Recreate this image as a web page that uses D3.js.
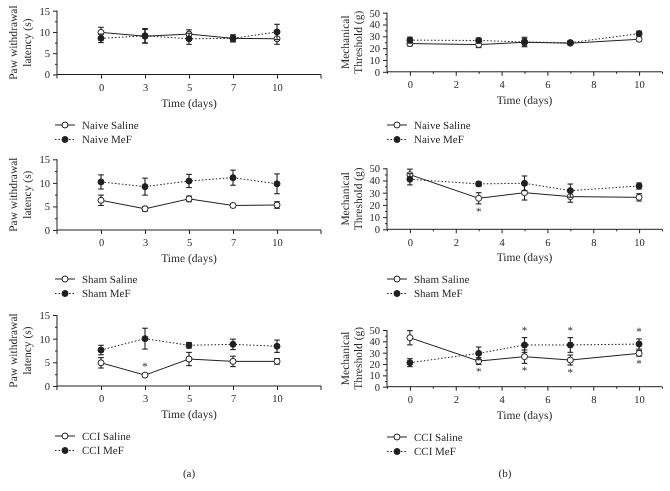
<!DOCTYPE html>
<html><head><meta charset="utf-8">
<script src="https://cdn.jsdelivr.net/npm/d3@7"></script>
<style>body{margin:0;background:#fff}svg{display:block;will-change:transform}text{font-family:"Liberation Serif","DejaVu Serif",serif;fill:#2b2728;text-rendering:geometricPrecision}</style>
</head><body><svg id="c" width="670" height="491" font-family="Liberation Serif, serif"></svg>
<script>
// ---- data ----
const daysCat = ["0","3","5","7","10"];
const daysNum = [0,3,5,7,10];
const pwlTicks = [0,5,10,15];
const mtTicks = [0,10,20,30,40,50];
const mtXTicks = [0,2,4,6,8,10];

const naiveSalinePWL = [9.9, 9.0, 9.5, 8.5, 8.4];
const naiveSalinePWLErr = [1.2, 1.6, 1.0, 0.8, 1.3];
const naiveMeFPWL = [8.5, 9.1, 8.4, 8.5, 10.0];
const naiveMeFPWLErr = [1.0, 1.7, 1.3, 0.8, 1.8];
const shamSalinePWL = [6.3, 4.5, 6.6, 5.2, 5.3];
const shamSalinePWLErr = [1.1, 0.5, 0.6, 0.3, 0.7];
const shamMeFPWL = [10.2, 9.2, 10.4, 11.1, 9.8];
const shamMeFPWLErr = [1.5, 1.8, 1.4, 1.6, 2.1];
const cciSalinePWL = [4.9, 2.3, 5.7, 5.2, 5.2];
const cciSalinePWLErr = [1.1, 0.3, 1.4, 1.1, 0.6];
const cciMeFPWL = [7.6, 10.0, 8.6, 8.8, 8.4];
const cciMeFPWLErr = [1.0, 2.2, 0.6, 1.1, 1.3];

const naiveSalineMT = [23.9, 23.0, 25.0, 24.2, 27.5];
const naiveSalineMTErr = [2.0, 2.5, 3.0, 1.5, 1.5];
const naiveMeFMT = [26.8, 26.5, 25.2, 24.7, 32.3];
const naiveMeFMTErr = [2.5, 2.0, 4.0, 1.5, 2.0];
const shamSalineMT = [44.8, 25.4, 30.0, 26.8, 26.2];
const shamSalineMTErr = [4.5, 4.6, 6.0, 4.6, 3.0];
const shamMeFMT = [41.0, 37.2, 37.7, 31.7, 35.5];
const shamMeFMTErr = [4.6, 2.0, 6.0, 5.4, 2.5];
const cciSalineMT = [43.2, 22.6, 26.5, 23.5, 29.4];
const cciSalineMTErr = [6.3, 3.0, 5.9, 4.4, 2.5];
const cciMeFMT = [21.2, 29.4, 36.8, 36.8, 37.6];
const cciMeFMTErr = [3.5, 5.6, 6.5, 6.5, 4.5];

// significance marks: [index of day, series (0 saline,1 MeF), side]
const shamMTStars = [[1,0,"below"]];
const cciPWLStars = [[1,0,"above"]];
const cciMTStars = [[1,0,"below"],[2,0,"below"],[3,0,"below"],[4,0,"below"],[2,1,"above"],[3,1,"above"],[4,1,"above"]];

const svg = d3.select("#c");
const INK = "#231f20";
const FONT = '"Liberation Serif","DejaVu Serif",serif';

function panel(o){
  const g = svg.append("g");
  const x = o.cat
    ? d3.scalePoint().domain(daysCat).range([o.x0, o.x1]).padding(1)
    : d3.scaleLinear().domain([-1, 11]).range([o.x0, o.x1]);
  const xv = i => o.cat ? x(daysCat[i]) : x(daysNum[i]);
  const y = d3.scaleLinear().domain([0, o.ymax]).range([o.yb, o.yt]);

  // y axis
  g.append("g").attr("transform", `translate(${o.x0},0)`)
    .call(d3.axisLeft(y).tickValues(o.yTicks).tickSize(4).tickPadding(3).tickFormat(d3.format("d")));
  const yMinor = d3.range(o.yMinorStep, o.ymax, o.yMinorStep*2);
  g.append("g").attr("transform", `translate(${o.x0},0)`)
    .call(d3.axisLeft(y).tickValues(yMinor).tickSize(2).tickFormat(""));

  // x axis
  if (o.cat) {
    g.append("g").attr("transform", `translate(0,${o.yb})`)
      .call(d3.axisBottom(x).tickSize(4).tickPadding(5));
    g.append("g").attr("transform", `translate(0,${o.yb})`).selectAll("line.end")
      .data([o.x0, o.x1]).join("line").attr("x1", d=>d).attr("x2", d=>d).attr("y1",0).attr("y2",4).attr("stroke",INK);
  } else {
    g.append("g").attr("transform", `translate(0,${o.yb})`)
      .call(d3.axisBottom(x).tickValues(mtXTicks).tickSize(4).tickPadding(5));
    g.append("g").attr("transform", `translate(0,${o.yb})`)
      .call(d3.axisBottom(x).tickValues([-1,1,3,5,7,9,11]).tickSize(2).tickFormat(""));
  }
  g.selectAll(".domain").remove();
  g.selectAll("g").attr("font-family", FONT);
  g.append("line").attr("x1",o.x0).attr("x2",o.x0).attr("y1",o.yb).attr("y2",o.yt).attr("stroke",INK);
  g.append("line").attr("x1",o.x0).attr("x2",o.x1).attr("y1",o.yb).attr("y2",o.yb).attr("stroke",INK);
  g.selectAll(".tick line").attr("stroke", INK);
  g.selectAll(".tick text").attr("font-size", 10.5).attr("font-family", FONT);

  // axis titles
  g.append("text").attr("x", (o.x0 + o.x1)/2).attr("y", o.yb + 32)
    .attr("text-anchor","middle").attr("font-size", 11.5).text("Time (days)");
  const ycen = (o.yb + o.yt)/2;
  o.ylab.forEach((t,i)=>{
    g.append("text").attr("transform", `translate(${o.ylx[i]},${ycen}) rotate(-90)`)
      .attr("text-anchor","middle").attr("dy","0.35em").attr("font-size", 11.5).text(t);
  });

  // series
  const series = [
    {v:o.s, e:o.se, filled:false, dash:null},
    {v:o.m, e:o.me, filled:true, dash:"1.5,2"}
  ];
  series.forEach(s=>{
    const pts = s.v.map((v,i)=>[xv(i), y(v)]);
    g.append("path").attr("d", d3.line()(pts)).attr("fill","none").attr("stroke",INK)
      .attr("stroke-width", 1).attr("stroke-dasharray", s.dash);
  });
  series.forEach(s=>{
    const eg = g.append("g");
    s.v.forEach((v,i)=>{
      const cx = xv(i), hi = y(v + s.e[i]), lo = y(v - s.e[i]);
      eg.append("line").attr("x1",cx).attr("x2",cx).attr("y1",hi).attr("y2",lo).attr("stroke",INK).attr("stroke-width",1.1);
      [hi,lo].forEach(yy=> eg.append("line").attr("x1",cx-2.8).attr("x2",cx+2.8).attr("y1",yy).attr("y2",yy).attr("stroke",INK).attr("stroke-width",1.1));
    });
    s.v.forEach((v,i)=>{
      eg.append("circle").attr("cx", xv(i)).attr("cy", y(v)).attr("r", 3)
        .attr("fill", s.filled ? INK : "#fff").attr("stroke", INK).attr("stroke-width", 1);
    });
  });

  // stars
  (o.stars||[]).forEach(([i, si, side])=>{
    const s = series[si];
    const v = side === "above" ? s.v[i] + s.e[i] : s.v[i] - s.e[i];
    const yy = y(v) + (side === "above" ? -4 : 11);
    g.append("text").attr("x", xv(i)).attr("y", yy).attr("text-anchor","middle")
      .attr("font-size", 11).text("*");
  });

  // legend
  o.leg.forEach((t,i)=>{
    const ly = o.legY + i*14.5;
    g.append("line").attr("x1", o.legX).attr("x2", o.legX+20).attr("y1", ly).attr("y2", ly)
      .attr("stroke", INK).attr("stroke-dasharray", i ? "1.5,2" : null);
    g.append("circle").attr("cx", o.legX+10).attr("cy", ly).attr("r", 3)
      .attr("fill", i ? INK : "#fff").attr("stroke", INK);
    g.append("text").attr("x", o.legX+27).attr("y", ly).attr("dy","0.35em").attr("font-size", 11).text(t);
  });
}

const pwlLab = ["Paw withdrawal", "latency (s)"];
const mtLab = ["Mechanical", "Threshold (g)"];
const A = {cat:true, x0:57, x1:321, ymax:15, yTicks:pwlTicks, yMinorStep:2.5, ylab:pwlLab, ylx:[13,27], legX:55};
const B = {cat:false, x0:387, x1:662, ymax:50, yTicks:mtTicks, yMinorStep:5, ylab:mtLab, ylx:[345,358], legX:387};

panel({...A, yb:74.5, yt:10.7, s:naiveSalinePWL, se:naiveSalinePWLErr, m:naiveMeFPWL, me:naiveMeFPWLErr, leg:["Naive Saline","Naive MeF"], legY:125});
panel({...B, yb:71.8, yt:12.7, s:naiveSalineMT, se:naiveSalineMTErr, m:naiveMeFMT, me:naiveMeFMTErr, leg:["Naive Saline","Naive MeF"], legY:125});
panel({...A, yb:230, yt:159.3, s:shamSalinePWL, se:shamSalinePWLErr, m:shamMeFPWL, me:shamMeFPWLErr, leg:["Sham Saline","Sham MeF"], legY:279});
panel({...B, yb:229.3, yt:168.3, s:shamSalineMT, se:shamSalineMTErr, m:shamMeFMT, me:shamMeFMTErr, leg:["Sham Saline","Sham MeF"], legY:279, stars:shamMTStars});
panel({...A, yb:386, yt:315, s:cciSalinePWL, se:cciSalinePWLErr, m:cciMeFPWL, me:cciMeFPWLErr, leg:["CCI Saline","CCI MeF"], legY:436, stars:cciPWLStars});
panel({...B, yb:386.7, yt:330, s:cciSalineMT, se:cciSalineMTErr, m:cciMeFMT, me:cciMeFMTErr, leg:["CCI Saline","CCI MeF"], legY:437, stars:cciMTStars});

svg.append("text").attr("x",189).attr("y",473).attr("dy","0.35em").attr("text-anchor","middle").attr("font-size",11).text("(a)");
svg.append("text").attr("x",505).attr("y",473).attr("dy","0.35em").attr("text-anchor","middle").attr("font-size",11).text("(b)");
</script></body></html>
